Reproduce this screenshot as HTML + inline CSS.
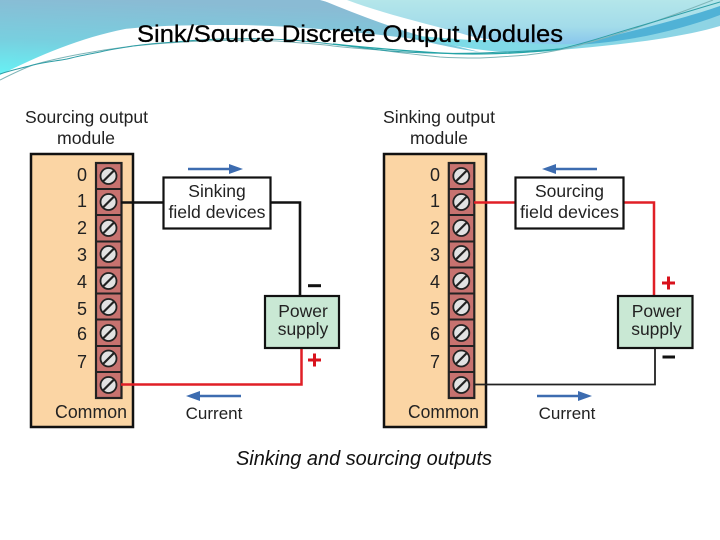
<!DOCTYPE html>
<html><head><meta charset="utf-8"><style>html,body{margin:0;padding:0;background:#fff;width:720px;height:540px;overflow:hidden}svg{display:block}text{font-family:"Liberation Sans",sans-serif}</style></head>
<body>
<svg width="720" height="540" viewBox="0 0 720 540" xmlns="http://www.w3.org/2000/svg">
<defs>
<linearGradient id="bl" x1="0" y1="1" x2="0.25" y2="0"><stop offset="0" stop-color="#66f2f5"/><stop offset="0.45" stop-color="#78cfdf"/><stop offset="1" stop-color="#8abbd4"/></linearGradient>
<linearGradient id="aq" x1="0" y1="0" x2="0" y2="1"><stop offset="0" stop-color="#b4e6ea"/><stop offset="0.6" stop-color="#a3dcea"/><stop offset="1" stop-color="#88c6ec"/></linearGradient>
<linearGradient id="cy" x1="0" y1="0" x2="1" y2="0"><stop offset="0" stop-color="#79dde8"/><stop offset="1" stop-color="#8fd3e4"/></linearGradient>
</defs>
<!-- header waves -->
<path d="M0,0H322C370,20 420,38 480,52C450,48 430,42 407,38C340,30 290,26 240,25C200,25 160,25 125,29C80,38 40,55 0,75Z" fill="url(#bl)"/>
<path d="M405,35C450,45 500,58 560,50C620,45 680,38 720,26V0H600V40H470Z" fill="url(#cy)"/>
<path d="M347,0H720V10C680,22 620,42 575,44C540,45 500,42 470,36C430,24 390,16 347,0Z" fill="url(#aq)"/>
<path d="M575,45C620,34 680,20 720,6V15C680,30 630,42 575,45Z" fill="#50b2d6"/>
<path d="M340,0C370,15 410,26 445,32C420,30 380,16 320,0Z" fill="#fff"/>
<g fill="none" stroke-width="1">
<path d="M0,80C12,74 22,69 33,65C60,57 100,50 133,46C180,41 230,39 277,41C300,43 320,44 333,46C350,48 365,49 380,50C400,53 420,55 440,57C455,58 470,58 480,58C500,57 515,56 527,55C545,53 560,50 573,47C595,41 612,36 630,30C660,20 690,9 713,0" stroke="#7fb5b8"/>
<path d="M0,74C12,70 22,68 33,65C45,62 56,61 67,59C78,56 90,54 100,52C112,49 122,48 133,46C148,44 160,43 175,42C215,38 250,38 290,40C320,42 345,46 380,50C410,53 440,54 480,53C510,52 535,51 560,49C590,42 612,34 640,26C670,17 700,8 720,2" stroke="#2f9ea6"/>
</g>
<path d="M333,44C360,47 395,50 440,53C470,55 520,54 560,49" fill="none" stroke="#22a3a6" stroke-width="1.300"/>

<text x="137" y="42" font-size="24" textLength="426" lengthAdjust="spacingAndGlyphs" fill="#000" stroke="#000" stroke-width=".3">Sink/Source Discrete Output Modules</text>

<!-- left module -->
<rect x="31" y="154" width="102" height="273" fill="#fbd5a4" stroke="#111" stroke-width="2.500"/>
<g>
<rect x="96" y="163" width="25.500" height="235" fill="#c7726f" stroke="#222" stroke-width="2.200"/>
<g stroke="#222" stroke-width="2"><path d="M96,189H121M96,215H121M96,241.500H121M96,267.500H121M96,293.500H121M96,319.500H121M96,346H121M96,372H121"/></g>
<g fill="#e2e2e2" stroke="#222" stroke-width="1.800">
<circle cx="108.500" cy="176" r="8"/><circle cx="108.500" cy="202" r="8"/><circle cx="108.500" cy="228" r="8"/><circle cx="108.500" cy="254" r="8"/><circle cx="108.500" cy="281" r="8"/><circle cx="108.500" cy="307" r="8"/><circle cx="108.500" cy="333" r="8"/><circle cx="108.500" cy="358.500" r="8"/><circle cx="108.500" cy="385" r="8"/>
<path stroke-width="2.200" d="M103,181.500L114,170.500M103,207.500L114,196.500M103,233.500L114,222.500M103,259.500L114,248.500M103,286.500L114,275.500M103,312.500L114,301.500M103,338.500L114,327.500M103,364L114,353M103,390.500L114,379.500"/>
</g>
</g>
<g font-size="18" fill="#222">
<text x="77" y="181">0</text><text x="77" y="207">1</text><text x="77" y="234">2</text><text x="77" y="261">3</text><text x="77" y="288">4</text><text x="77" y="315">5</text><text x="77" y="340">6</text><text x="77" y="368">7</text>
<text x="55" y="418" font-size="18" textLength="72" lengthAdjust="spacingAndGlyphs">Common</text>
<text x="25" y="123" font-size="17.500" textLength="123" lengthAdjust="spacingAndGlyphs">Sourcing output</text>
<text x="57" y="144" font-size="17.500" textLength="58" lengthAdjust="spacingAndGlyphs">module</text>
</g>
<path d="M121,202.500H163M271,202.500H300V296" fill="none" stroke="#111" stroke-width="2.600"/>
<path d="M301.500,348V384.500H121" fill="none" stroke="#e01f26" stroke-width="2.500"/>
<rect x="163.500" y="177.500" width="107" height="51" fill="#fff" stroke="#111" stroke-width="2.200"/>
<rect x="265" y="296" width="74" height="52" fill="#c9e8d4" stroke="#111" stroke-width="2.200"/>
<g font-size="17.500" fill="#222" text-anchor="middle">
<text x="217" y="197">Sinking</text><text x="217" y="218" textLength="97" lengthAdjust="spacingAndGlyphs">field devices</text>
<text x="303" y="317">Power</text><text x="303" y="335">supply</text>
<text x="214" y="419" font-size="17">Current</text>
</g>
<path d="M308,285.700H321" stroke="#111" stroke-width="3"/>
<path d="M308,360H321M314.500,353.500V366.500" stroke="#d8121c" stroke-width="3"/>
<path d="M188,169H234" stroke="#3d6cb0" stroke-width="2.400"/><path d="M243,169L229,164V174Z" fill="#3d6cb0"/>
<path d="M195,396H241" stroke="#3d6cb0" stroke-width="2.400"/><path d="M186,396L200,391V401Z" fill="#3d6cb0"/>

<!-- right module -->
<rect x="384" y="154" width="102" height="273" fill="#fbd5a4" stroke="#111" stroke-width="2.500"/>
<g transform="translate(352.800,0)">
<rect x="96" y="163" width="25.500" height="235" fill="#c7726f" stroke="#222" stroke-width="2.200"/>
<g stroke="#222" stroke-width="2"><path d="M96,189H121M96,215H121M96,241.500H121M96,267.500H121M96,293.500H121M96,319.500H121M96,346H121M96,372H121"/></g>
<g fill="#e2e2e2" stroke="#222" stroke-width="1.800">
<circle cx="108.500" cy="176" r="8"/><circle cx="108.500" cy="202" r="8"/><circle cx="108.500" cy="228" r="8"/><circle cx="108.500" cy="254" r="8"/><circle cx="108.500" cy="281" r="8"/><circle cx="108.500" cy="307" r="8"/><circle cx="108.500" cy="333" r="8"/><circle cx="108.500" cy="358.500" r="8"/><circle cx="108.500" cy="385" r="8"/>
<path stroke-width="2.200" d="M103,181.500L114,170.500M103,207.500L114,196.500M103,233.500L114,222.500M103,259.500L114,248.500M103,286.500L114,275.500M103,312.500L114,301.500M103,338.500L114,327.500M103,364L114,353M103,390.500L114,379.500"/>
</g>
</g>
<g font-size="18" fill="#222">
<text x="430" y="181">0</text><text x="430" y="207">1</text><text x="430" y="234">2</text><text x="430" y="261">3</text><text x="430" y="288">4</text><text x="430" y="315">5</text><text x="430" y="340">6</text><text x="430" y="368">7</text>
<text x="408" y="418" font-size="18" textLength="71" lengthAdjust="spacingAndGlyphs">Common</text>
<text x="383" y="123" font-size="17.500" textLength="112" lengthAdjust="spacingAndGlyphs">Sinking output</text>
<text x="410" y="144" font-size="17.500" textLength="58" lengthAdjust="spacingAndGlyphs">module</text>
</g>
<path d="M474,202.500H515M624,202.500H654V296" fill="none" stroke="#e01f26" stroke-width="2.500"/>
<path d="M655,348V384.500H474" fill="none" stroke="#222" stroke-width="1.800"/>
<rect x="515.500" y="177.500" width="108" height="51" fill="#fff" stroke="#111" stroke-width="2.200"/>
<rect x="618" y="296" width="74.500" height="52" fill="#c9e8d4" stroke="#111" stroke-width="2.200"/>
<g font-size="17.500" fill="#222" text-anchor="middle">
<text x="569.500" y="197">Sourcing</text><text x="569.500" y="218" textLength="99" lengthAdjust="spacingAndGlyphs">field devices</text>
<text x="656.500" y="317">Power</text><text x="656.500" y="335">supply</text>
<text x="567" y="419" font-size="17">Current</text>
</g>
<path d="M662,283H675M668.500,276.500V289.500" stroke="#d8121c" stroke-width="3"/>
<path d="M662.500,357H675" stroke="#111" stroke-width="3"/>
<path d="M551,169H597" stroke="#3d6cb0" stroke-width="2.400"/><path d="M542,169L556,164V174Z" fill="#3d6cb0"/>
<path d="M537,396H584" stroke="#3d6cb0" stroke-width="2.400"/><path d="M592,396L578,391V401Z" fill="#3d6cb0"/>

<text x="236" y="465" font-size="20" font-style="italic" textLength="256" lengthAdjust="spacingAndGlyphs" fill="#111">Sinking and sourcing outputs</text>
</svg>
</body></html>
